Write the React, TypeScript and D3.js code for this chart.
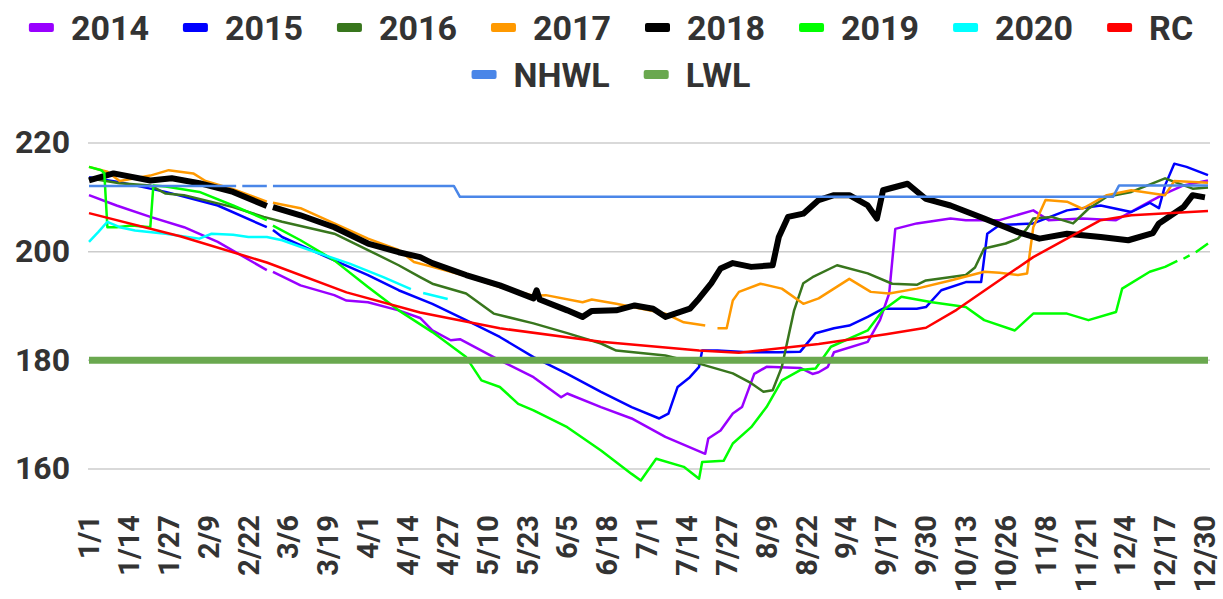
import React, { useEffect, useRef } from 'react';
import * as d3 from 'd3';

type Pt = [number, number | null];

// day index (leap-year calendar, 0 = 1/1) and water level
const s2014: Pt[] = [
  [0, 210.4], [9, 208.5], [20, 206.4], [31, 204.5], [42, 201.8], [58, 196.6], [59, null], [60, 196.3],
  [69, 193.8], [80, 192], [84, 191], [91, 190.7], [101, 189.2], [108, 187.8], [112, 185.5], [118, 183.7],
  [121, 183.9], [134, 180], [145, 176.9], [154, 173.2], [156, 173.9], [167, 171.4], [177, 169.3], [188, 165.9],
  [201, 162.8], [202, 165.6], [206, 167.1], [210, 170.2], [213, 171.4], [217, 177.5], [221, 178.8], [232, 178.6],
  [236, 177.5], [238, 177.8], [241, 178.8], [243, 181.5], [254, 183.4], [258, 187.4], [261, 192.3], [263, 204.2],
  [270, 205.2], [281, 206.1], [286, 205.8], [297, 205.8], [308, 207.6], [313, 205.8], [324, 206.1], [335, 205.8],
  [346, 209.2], [351, 210.7], [357, 212.2], [365, 213.1],
];
const s2015: Pt[] = [
  [0, 213.7], [10, 212.8], [25, 211], [42, 208.5], [58, 204.5], [59, null], [60, 204], [63, 202.7], [80, 198.4],
  [91, 195.7], [101, 192.9], [112, 190.4], [123, 187.4], [134, 184.3], [145, 180.6], [156, 177.5], [167, 174.2],
  [177, 171.4], [186, 169.3], [189, 170.2], [192, 175.1], [196, 176.9], [199, 178.8], [200, 181.8], [205, 181.8],
  [215, 181.5], [225, 181.5], [232, 181.6], [237, 185], [243, 185.9], [248, 186.4], [254, 188], [259, 189.5],
  [270, 189.5], [273, 189.8], [278, 192.9], [286, 194.4], [291, 194.4], [293, 203.3], [297, 204.9], [308, 205.2],
  [319, 207.6], [330, 208.5], [340, 207.3], [346, 209], [349, 208], [351, 212.2], [354, 216.2], [358, 215.6],
  [365, 214.1],
];
const s2016: Pt[] = [
  [0, 213.5], [10, 212.6], [20, 212.2], [25, 210.7], [31, 210.4], [47, 208.2], [57, 206.4], [63, 205.5],
  [80, 203.3], [91, 200.3], [101, 197.5], [108, 195.3], [112, 194.1], [123, 192.3], [132, 188.6], [145, 186.8],
  [156, 185], [167, 183.1], [172, 181.8], [188, 180.9], [199, 179.4], [210, 177.6], [216, 175.8], [220, 174.2],
  [223, 174.5], [226, 178.8], [230, 189.2], [233, 194.2], [236, 195.3], [244, 197.5], [254, 196], [262, 194.1],
  [270, 193.9], [273, 194.7], [286, 195.7], [289, 197.1], [292, 200.6], [299, 201.5], [303, 202.4], [306, 204.3],
  [308, 206.1], [314, 206.4], [321, 205.2], [326, 207.9], [332, 210.1], [340, 211], [351, 213.5], [360, 211.6],
  [365, 211.8],
];
const s2017: Pt[] = [
  [0, 215.6], [6, 214.7], [10, 213], [20, 214], [26, 215], [34, 214.4], [38, 213], [47, 211.5], [58, 209.2],
  [59, null], [60, 209], [69, 208], [80, 205.2], [91, 202.4], [101, 200.3], [106, 198.1], [112, 197.2],
  [123, 195.5], [134, 193.5], [145, 191.9], [149, 192], [161, 190.7], [164, 191.2], [172, 190.4], [188, 188.6],
  [194, 187], [201, 186.4], [202, null], [205, 185.9], [208, 185.9], [210, 191], [212, 192.6], [219, 194.1],
  [226, 193.2], [233, 190.4], [238, 191.4], [248, 195], [255, 192.6], [261, 192.3], [270, 193.2], [281, 194.7],
  [292, 196.3], [297, 196.1], [303, 195.7], [306, 196], [308, 204.5], [312, 209.5], [319, 209.2], [324, 207.9],
  [332, 210.4], [340, 211.3], [351, 210.4], [354, 213], [365, 212.7],
];
const s2018: Pt[] = [
  [0, 213.1], [8, 214.4], [20, 213.1], [27, 213.5], [36, 212.6], [47, 211], [58, 208.4], [59, null], [60, 208.2],
  [69, 206.7], [80, 204.5], [91, 201.5], [101, 199.9], [108, 199], [112, 197.9], [123, 195.7], [134, 193.8],
  [145, 191.4], [146, 192.9], [147, 191.2], [156, 189.2], [161, 188], [164, 189.1], [172, 189.2], [178, 190.1],
  [184, 189.5], [188, 188], [196, 189.5], [199, 191.4], [203, 194.2], [206, 196.9], [210, 197.9], [216, 197.2],
  [223, 197.5], [225, 202.7], [228, 206.4], [233, 207], [238, 209.5], [243, 210.4], [248, 210.4], [254, 208.5],
  [257, 206.1], [259, 211.3], [267, 212.5], [273, 209.7], [281, 208.5], [292, 206.1], [303, 203.6], [310, 202.4],
  [319, 203.3], [330, 202.7], [339, 202.1], [347, 203.4], [349, 205.2], [357, 208.2], [360, 210.4], [364, 210],
];
const s2019: Pt[] = [
  [0, 215.6], [4, 215], [5, 214.4], [6, 204.5], [9, 204.5], [14, 204.8], [20, 204.5], [21, 212.2], [25, 212],
  [36, 211], [47, 208.5], [58, 205.8], [59, null], [60, 204.8], [69, 202.1], [80, 198.4], [91, 193.5],
  [101, 189.2], [112, 185.2], [123, 180.6], [128, 176.3], [134, 175.1], [140, 172], [145, 170.8], [156, 167.7],
  [167, 163.4], [177, 159.1], [180, 157.9], [185, 161.9], [194, 160.4], [199, 158.2], [200, 161.3], [207, 161.5],
  [210, 164.7], [216, 167.7], [221, 171.4], [226, 176.3], [232, 178.2], [237, 178.5], [242, 182.5], [254, 185.5],
  [259, 189.2], [265, 191.7], [275, 190.7], [286, 189.8], [292, 187.4], [302, 185.5], [308, 188.6], [319, 188.6],
  [326, 187.4], [335, 188.9], [337, 193.2], [346, 196.3], [351, 197.2], [355, 198.3], [356, null], [357, 198.7],
  [359, 199.3], [360, null], [361, 199.9], [365, 201.5],
];
const s2020: Pt[] = [
  [0, 201.8], [3, 203.6], [6, 205.5], [10, 204.5], [15, 203.9], [25, 203.3], [36, 202.4], [40, 203.3],
  [47, 203.1], [52, 202.7], [58, 202.7], [63, 202.1], [74, 199.9], [85, 197.8], [96, 195.3], [105, 193.1],
  [106, null], [109, 192.4], [117, 191.3],
];
const rc: Pt[] = [
  [0, 207.1], [30, 202.8], [58, 198], [84, 192.5], [108, 188.8], [134, 185.9], [167, 183.4], [199, 181.8],
  [212, 181.4], [238, 183], [260, 184.8], [273, 186], [283, 189.3], [308, 199], [330, 205.8], [340, 206.7],
  [365, 207.5],
];
const nhwl: Pt[] = [
  [0, 212.1], [48, 212.1], [49, null], [50, 212.1], [58, 212.1], [59, null], [60, 212.1], [119, 212.1],
  [121, 210.1], [334, 210.1], [336, 212.2], [365, 212.2],
];
const lwl: Pt[] = [[0, 180], [365, 180]];

const seriesNames = ['2014', '2015', '2016', '2017', '2018', '2019', '2020', 'RC', 'NHWL', 'LWL'];
const seriesData = [s2014, s2015, s2016, s2017, s2018, s2019, s2020, rc, nhwl, lwl];
const seriesColors = ['#9900ff', '#0000ff', '#38761d', '#ff9900', '#000000', '#00ff00', '#00ffff', '#ff0000', '#4a86e8', '#6aa84f'];
const seriesWidths = [2.5, 2.5, 2.5, 2.5, 6, 2.5, 2.5, 2.5, 2.5, 7];

const tickLabels = ['1/1', '1/14', '1/27', '2/9', '2/22', '3/6', '3/19', '4/1', '4/14', '4/27', '5/10', '5/23',
  '6/5', '6/18', '7/1', '7/14', '7/27', '8/9', '8/22', '9/4', '9/17', '9/30', '10/13', '10/26', '11/8',
  '11/21', '12/4', '12/17', '12/30'];
const tickStep = 13;
const yTicks = [160, 180, 200, 220];

const FONT = 'Roboto, "Noto Sans", sans-serif';

const App = () => {
  const ref = useRef<SVGSVGElement>(null);

  useEffect(() => {
    document.body.style.margin = '0';
    const svg = d3.select(ref.current);
    svg.selectAll('*').remove();

    const x = d3.scaleLinear().domain([0, 365]).range([89, 1208]);
    const y = d3.scaleLinear().domain([160, 220]).range([469, 143]);

    // gridlines
    svg.append('g')
      .selectAll('line')
      .data(yTicks)
      .enter().append('line')
      .attr('x1', 88).attr('x2', 1210)
      .attr('y1', d => y(d)).attr('y2', d => y(d))
      .attr('stroke', '#cccccc')
      .attr('stroke-width', 1.5);

    // y labels
    svg.append('g')
      .selectAll('text')
      .data(yTicks)
      .enter().append('text')
      .attr('x', 70)
      .attr('y', d => y(d))
      .attr('dy', '0.32em')
      .attr('text-anchor', 'end')
      .style('font-family', FONT)
      .style('font-weight', 'bold')
      .style('font-size', '32px')
      .style('fill', '#333')
      .text(d => d);

    // x labels
    svg.append('g')
      .selectAll('text')
      .data(tickLabels)
      .enter().append('text')
      .attr('transform', (d, i) => `translate(${x(i * tickStep)},515) rotate(-90)`)
      .attr('dy', '0.35em')
      .attr('text-anchor', 'end')
      .style('font-family', FONT)
      .style('font-weight', 'bold')
      .style('font-size', '29px')
      .style('fill', '#333')
      .text(d => d);

    // series
    const line = d3.line<Pt>()
      .defined(d => d[1] !== null)
      .x(d => x(d[0]))
      .y(d => y(d[1] as number));

    seriesData.forEach((data, i) => {
      svg.append('path')
        .datum(data)
        .attr('d', line)
        .attr('fill', 'none')
        .attr('stroke', seriesColors[i])
        .attr('stroke-width', seriesWidths[i])
        .attr('stroke-linejoin', 'round');
    });

    // legend, two centred rows
    const rows = [seriesNames.slice(0, 8), seriesNames.slice(8)];
    const baselines = [40, 87];
    rows.forEach((names, r) => {
      const g = svg.append('g');
      const items = names.map(name => {
        const t = g.append('text')
          .attr('y', baselines[r])
          .style('font-family', FONT)
          .style('font-weight', 'bold')
          .style('font-size', '34px')
          .style('fill', '#333')
          .text(name);
        const w = (t.node() as SVGTextElement).getComputedTextLength();
        return { name, t, w };
      });
      const total = d3.sum(items, d => 25 + 17 + d.w) + 34 * (items.length - 1);
      let cx = 611 - total / 2;
      items.forEach(it => {
        const idx = seriesNames.indexOf(it.name);
        g.append('rect')
          .attr('x', cx).attr('y', baselines[r] - 17)
          .attr('width', 25).attr('height', 9)
          .attr('rx', 2)
          .attr('fill', seriesColors[idx]);
        it.t.attr('x', cx + 42);
        cx += 42 + it.w + 34;
      });
    });
  }, []);

  return <svg ref={ref} width={1223} height={599} style={{ display: 'block' }} />;
};

export default App;
